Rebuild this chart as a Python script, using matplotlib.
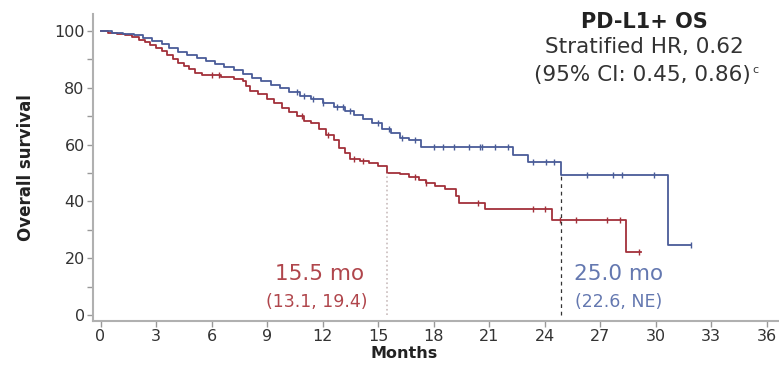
import matplotlib.pyplot as plt
import numpy as np

# Kaplan-Meier steps (months, % surviving after each drop)
red_t = [0, 0.4, 0.9, 1.3, 1.7, 2.1, 2.4, 2.7, 3.0, 3.3, 3.6, 3.9, 4.2, 4.5, 4.8, 5.1, 5.5,
         6.5, 7.2, 7.7, 7.85, 8.1, 8.5, 9.0, 9.4, 9.8, 10.2, 10.6, 11.0, 11.4, 11.8, 12.2,
         12.6, 12.9, 13.2, 13.5, 14.0, 14.5, 15.0, 15.5, 16.2, 16.7, 17.2, 17.6, 18.1, 18.6,
         19.2, 19.4, 20.8, 24.4, 28.4]
red_s = [100, 99.5, 99, 98.5, 97.8, 97, 96, 95, 94, 93, 91.5, 90, 88.8, 87.6, 86.5, 85.2, 84.5,
         84, 83.3, 82.5, 80.5, 79, 77.8, 76, 74.5, 73, 71.5, 70, 68.5, 67.5, 65.5, 63.5,
         61.5, 59, 57, 55, 54.2, 53.5, 52.5, 50, 49.5, 48.5, 47.5, 46.5, 45.5, 44.5,
         42, 39.5, 37.3, 33.6, 22.3]
red_end = 29.2
red_cens = [6.0, 6.4, 10.9, 12.3, 13.7, 14.2, 17.0, 17.6, 20.4, 23.4, 24.0, 24.85, 25.7,
            27.4, 28.1, 29.1]

blue_t = [0, 0.6, 1.2, 1.8, 2.3, 2.8, 3.3, 3.7, 4.2, 4.7, 5.2, 5.7, 6.2, 6.7, 7.2, 7.7, 8.2,
          8.7, 9.2, 9.7, 10.2, 10.8, 11.4, 12.0, 12.6, 13.2, 13.7, 14.2, 14.7, 15.2, 15.7,
          16.2, 16.7, 17.3, 22.3, 23.1, 24.9, 30.7]
blue_s = [100, 99.5, 99, 98.5, 97.5, 96.5, 95.5, 94, 92.8, 91.6, 90.5, 89.5, 88.5, 87.5, 86.3,
          85, 83.5, 82.3, 81, 80, 78.6, 77, 76, 74.5, 73.2, 72, 70.5, 69, 67.5, 65.5, 64,
          62.5, 61.5, 59.2, 56.3, 53.9, 49.3, 24.6]
blue_end = 31.9
blue_cens = [10.6, 11.0, 11.5, 12.0, 12.8, 13.1, 13.5, 15.0, 15.6, 16.3, 17.0, 18.0, 18.5,
             19.1, 19.9, 20.5, 20.6, 21.3, 22.0, 23.4, 24.1, 24.5, 26.3, 27.7, 28.2, 29.9, 31.9]

red_median = 15.5
blue_median = 24.9

red_col = '#a3303a'
blue_col = '#4a5c98'

fig = plt.figure(figsize=(7.79, 3.65), dpi=100)
ax = fig.add_axes([0.1194, 0.1205, 0.8793, 0.841])


def km_at(times, surv, x):
    idx = np.searchsorted(times, x, side='right') - 1
    return np.array(surv)[idx]


# curves
for t, s, end, cens, col in [(red_t, red_s, red_end, red_cens, red_col),
                             (blue_t, blue_s, blue_end, blue_cens, blue_col)]:
    tt = list(t) + [end]
    ss = list(s) + [s[-1]]
    ax.step(tt, ss, where='post', color=col, lw=1.3)
    ax.plot(cens, km_at(t, s, np.array(cens)), linestyle='none', marker='|',
            ms=5, mew=1.0, color=col)

# median lines
ax.plot([red_median, red_median], [0, 50], color='#c9bcbc', lw=1.2, linestyle=':')
ax.plot([blue_median, blue_median], [0, 50], color='#333333', lw=0.9, linestyle=(0, (3, 3)))

# annotations
ax.text(11.86, 14.4, '15.5 mo', color='#b0464c', fontsize=15.5, ha='center', va='center')
ax.text(11.7, 4.6, '(13.1, 19.4)', color='#b0464c', fontsize=12.5, ha='center', va='center')
ax.text(28.0, 14.6, '25.0 mo', color='#6478b0', fontsize=15.5, ha='center', va='center')
ax.text(28.0, 4.6, '(22.6, NE)', color='#6478b0', fontsize=12.5, ha='center', va='center')

ax.text(29.4, 103.2, 'PD-L1+ OS', fontsize=15, fontweight='bold', color='#222222',
        ha='center', va='center')
ax.text(29.4, 94.3, 'Stratified HR, 0.62', fontsize=15.5, color='#333333',
        ha='center', va='center')
ax.text(29.3, 84.7, '(95% CI: 0.45, 0.86)', fontsize=15.5, color='#333333',
        ha='center', va='center')
ax.text(35.25, 86.3, 'c', fontsize=8, color='#333333', ha='left', va='center')

ax.set_xlim(-0.405, 36.62)
ax.set_ylim(-2.11, 106)
ax.set_xticks(np.arange(0, 37, 3))
ax.set_yticks(np.arange(0, 101, 20))
ax.set_yticks(np.arange(10, 100, 20), minor=True)
ax.tick_params(axis='both', which='both', direction='out', length=4, width=1,
               color='#999999', labelsize=11.5, labelcolor='#333333', pad=2)
ax.tick_params(axis='x', which='minor', length=0)

for side in ['top', 'right']:
    ax.spines[side].set_visible(False)
for side in ['left', 'bottom']:
    ax.spines[side].set_color('#b0b0b0')
    ax.spines[side].set_linewidth(1.5)

ax.set_ylabel('Overall survival', fontsize=12, fontweight='bold', color='#222222')
ax.yaxis.set_label_coords(-0.0847, 0.5)
ax.set_xlabel('Months', fontsize=11.5, fontweight='bold', color='#222222')
ax.xaxis.set_label_coords(0.454, -0.083)

fig.savefig('out.png', dpi=100)
